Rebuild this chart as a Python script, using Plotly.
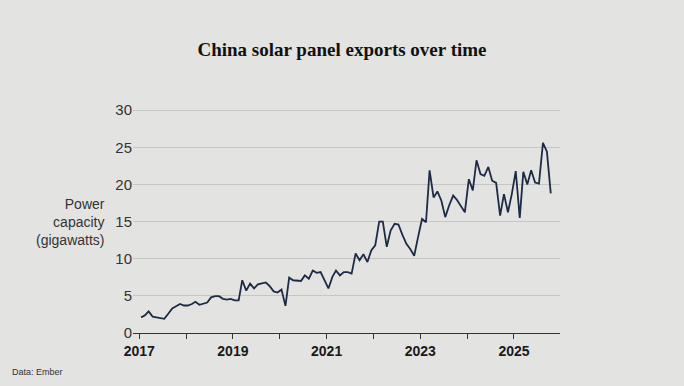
import plotly.graph_objects as go

# Monthly China solar panel exports (GW)
years = [2017, 2018, 2019, 2020, 2021, 2022, 2023, 2024, 2025]
vals_2017 = [2.1, 2.4, 2.9, 2.2, 2.1, 2.0, 1.9, 2.6, 3.3, 3.6, 3.9, 3.7]
vals_2018 = [3.7, 3.9, 4.2, 3.8, 3.9, 4.1, 4.8, 4.95, 4.95, 4.6, 4.5, 4.6]
vals_2019 = [4.4, 4.4, 7.1, 5.7, 6.65, 6.0, 6.55, 6.7, 6.8, 6.3, 5.6, 5.45]
vals_2020 = [5.85, 3.65, 7.45, 7.1, 7.05, 7.0, 7.75, 7.3, 8.4, 8.1, 8.2, 7.1]
vals_2021 = [6.0, 7.55, 8.4, 7.75, 8.2, 8.2, 8.0, 10.7, 9.8, 10.6, 9.55, 11.1]
vals_2022 = [11.8, 15.0, 15.0, 11.6, 13.8, 14.7, 14.6, 13.2, 12.0, 11.3, 10.4, 12.9]
vals_2023 = [15.35, 14.9, 21.9, 18.25, 19.05, 17.8, 15.6, 17.2, 18.5, 17.9, 17.1, 16.25]
vals_2024 = [20.7, 19.2, 23.25, 21.4, 21.15, 22.35, 20.5, 20.2, 15.8, 18.7, 16.25, 18.7]
vals_2025 = [21.8, 15.5, 21.7, 20.0, 21.9, 20.25, 20.1, 25.6, 24.4, 18.8]
yearly_values = [vals_2017, vals_2018, vals_2019, vals_2020, vals_2021,
                 vals_2022, vals_2023, vals_2024, vals_2025]

tick_years = [2017, 2018, 2019, 2020, 2021, 2022, 2023, 2024, 2025]
tick_labels = ["2017", "", "2019", "", "2021", "", "2023", "", "2025"]
y_ticks = [0, 5, 10, 15, 20, 25, 30]

dates, values = [], []
for yr, vals in zip(years, yearly_values):
    for m, v in enumerate(vals):
        dates.append(f"{yr}-{m + 1:02d}-15")
        values.append(v)

BG = "#e3e3e2"
fig = go.Figure()
fig.add_trace(go.Scatter(
    x=dates, y=values, mode="lines",
    line=dict(color="#1d2b45", width=1.8),
    hoverinfo="skip", showlegend=False,
))

fig.update_layout(
    width=684, height=386,
    paper_bgcolor=BG, plot_bgcolor=BG,
    margin=dict(l=133, r=124, t=109, b=53),
    title=dict(
        text="China solar panel exports over time",
        x=0.5, xanchor="center", y=1 - 49 / 386, yanchor="middle",
        font=dict(family="Liberation Serif, DejaVu Serif, serif", size=19,
                  color="#111111", weight="bold"),
    ),
    xaxis=dict(
        type="date",
        range=["2016-11-13", "2025-12-26"],
        tickvals=[f"{y}-01-01" for y in tick_years],
        ticktext=tick_labels,
        ticks="outside", ticklen=5, tickcolor="#333333", tickwidth=1,
        showgrid=False, zeroline=False,
        showline=True, linecolor="#333333", linewidth=1.2,
        tickfont=dict(family="Liberation Sans Narrow, Liberation Sans, sans-serif",
                      size=14, color="#1a1a1a", weight="bold"),
        fixedrange=True,
    ),
    yaxis=dict(
        range=[0, 30.15],
        tickvals=y_ticks,
        showgrid=True, gridcolor="#c6c6c6", gridwidth=1,
        zeroline=False, showline=False, ticks="",
        tickfont=dict(family="Liberation Sans Narrow, Liberation Sans, sans-serif",
                      size=15, color="#333333"),
        fixedrange=True,
    ),
    annotations=[
        dict(text="Power<br>capacity<br>(gigawatts)", xref="paper", yref="paper",
             x=-0.062, y=15 / 30.15, xanchor="right", yanchor="middle",
             align="right", showarrow=False,
             font=dict(family="Liberation Sans Narrow, Liberation Sans, sans-serif",
                       size=14, color="#333333")),
        dict(text="Data: Ember", xref="paper", yref="paper",
             x=-123 / 427, y=-39 / 224, xanchor="left", yanchor="middle",
             showarrow=False,
             font=dict(family="Liberation Sans, sans-serif", size=9, color="#333333")),
    ],
)

fig.write_html(
    "out.html",
    config={"displayModeBar": False},
    post_script="document.body.style.margin='0';document.body.style.overflow='hidden';",
)
